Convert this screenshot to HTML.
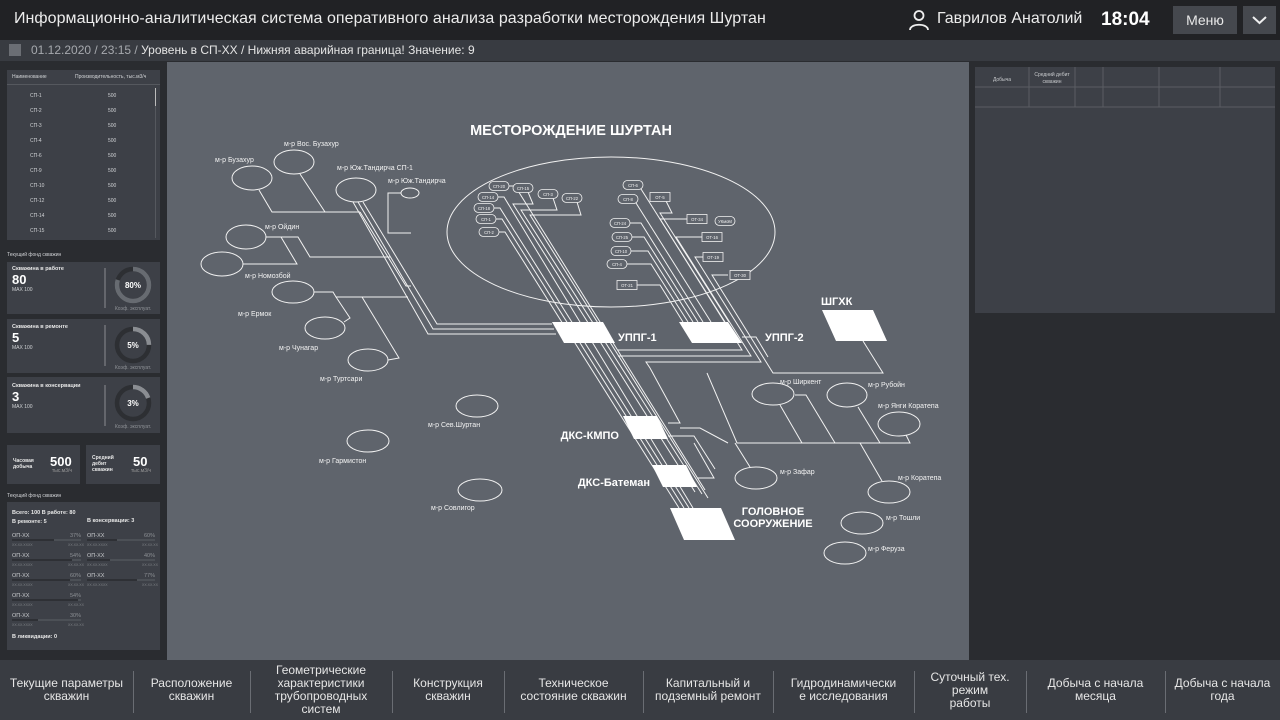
<!DOCTYPE html>
<html><head><meta charset="utf-8">
<style>
*{margin:0;padding:0;box-sizing:border-box}
body{width:1280px;height:720px;overflow:hidden;background:#2a2c30;font-family:"Liberation Sans",sans-serif;color:#e8e8e8;position:relative}
.abs{position:absolute}
#top{left:0;top:0;width:1280px;height:40px;background:#212225}
#alert{left:0;top:40px;width:1280px;height:21px;background:#383b41}
#left{left:0;top:61px;width:166px;height:599px;background:#2a2c30}
#canvas{left:167px;top:62px;width:802px;height:598px;background:#5f646c}
#right{left:969px;top:61px;width:311px;height:599px;background:#2a2c30}
#nav{left:0;top:660px;width:1280px;height:60px;background:#393c42}
.card{position:absolute;background:#3d4047}
.t5{font-size:5px;color:#cfd1d4}
.navi{position:absolute;top:660px;height:60px;display:flex;align-items:center;justify-content:center;text-align:center;font-size:12px;line-height:13px;color:#e6e6e6}
.div{position:absolute;top:671px;width:1px;height:42px;background:#6a6d73}
</style></head><body>
<div id="top" class="abs"></div>
<div class="abs" style="left:14px;top:10px;font-size:16px;letter-spacing:0.05px;color:#ececec">Информационно-аналитическая система оперативного анализа разработки месторождения Шуртан</div>
<svg class="abs" style="left:907px;top:8px" width="24" height="24" viewBox="0 0 24 24"><circle cx="12" cy="7.5" r="4.5" fill="none" stroke="#eee" stroke-width="1.8"/><path d="M3 22 C3 15 21 15 21 22" fill="none" stroke="#eee" stroke-width="1.8"/></svg>
<div class="abs" style="left:937px;top:10px;font-size:16px;color:#ececec">Гаврилов Анатолий</div>
<div class="abs" style="left:1101px;top:9px;font-size:19px;font-weight:bold;color:#fff">18:04</div>
<div class="abs" style="left:1173px;top:6px;width:64px;height:28px;background:#45484e;font-size:14px;display:flex;align-items:center;justify-content:center">Меню</div>
<div class="abs" style="left:1243px;top:6px;width:33px;height:28px;background:#45484e"></div>
<svg class="abs" style="left:1251px;top:14px" width="17" height="12"><path d="M2 3 L8.5 9 L15 3" fill="none" stroke="#eee" stroke-width="2"/></svg>

<div id="alert" class="abs"></div>
<div class="abs" style="left:9px;top:44px;width:12px;height:12px;background:#6b6e74"></div>
<div class="abs" style="left:31px;top:43px;font-size:12px;color:#e4e4e4"><span style="color:#a6a9ae">01.12.2020 / 23:15 /</span> Уровень в СП-ХХ / Нижняя аварийная граница! Значение: 9</div>

<div id="left" class="abs"></div>
<div class="card" style="left:7px;top:70px;width:153px;height:170px"></div>
<div class="abs" style="left:7px;top:84px;width:153px;height:1px;background:#55585e"></div>
<div class="abs t5" style="left:12px;top:74px">Наименование</div>
<div class="abs t5" style="left:75px;top:74px">Производительность, тыс.м3/ч</div>
<div class="abs" style="left:155px;top:88px;width:1px;height:150px;background:#55585e"></div>
<div class="abs" style="left:155px;top:88px;width:1px;height:18px;background:#bbb"></div>
<div class="abs t5" style="left:30px;top:89px;line-height:15px">СП-1<br>СП-2<br>СП-3<br>СП-4<br>СП-6<br>СП-9<br>СП-10<br>СП-12<br>СП-14<br>СП-15</div>
<div class="abs t5" style="left:108px;top:89px;line-height:15px">500<br>500<br>500<br>500<br>500<br>500<br>500<br>500<br>500<br>500</div>

<div class="abs t5" style="left:7px;top:252px">Текущий фонд скважин</div>
<div class="card" style="left:7px;top:262px;width:153px;height:52px"></div>
<div class="card" style="left:7px;top:319px;width:153px;height:54px"></div>
<div class="card" style="left:7px;top:377px;width:153px;height:56px"></div>
<div class="abs" style="left:12px;top:266px;font-size:5.5px;font-weight:bold">Скважина в работе</div>
<div class="abs" style="left:12px;top:272px;font-size:13px;font-weight:bold;color:#fff">80</div>
<div class="abs t5" style="left:12px;top:287px">MAX 100</div>
<div class="abs" style="left:12px;top:324px;font-size:5.5px;font-weight:bold">Скважина в ремонте</div>
<div class="abs" style="left:12px;top:330px;font-size:13px;font-weight:bold;color:#fff">5</div>
<div class="abs t5" style="left:12px;top:345px">MAX 100</div>
<div class="abs" style="left:12px;top:383px;font-size:5.5px;font-weight:bold">Скважина в консервации</div>
<div class="abs" style="left:12px;top:389px;font-size:13px;font-weight:bold;color:#fff">3</div>
<div class="abs t5" style="left:12px;top:404px">MAX 100</div>
<svg class="abs" style="left:0;top:0" width="170" height="660">
<g stroke="#8a8d92" stroke-width="1"><line x1="105" y1="268" x2="105" y2="308"/><line x1="105" y1="325" x2="105" y2="366"/><line x1="105" y1="385" x2="105" y2="426"/></g>
<g fill="none" stroke-width="4.5">
<circle cx="133" cy="285" r="16" stroke="#2d2f33"/>
<circle cx="133" cy="345" r="16" stroke="#2d2f33"/>
<circle cx="133" cy="403" r="16" stroke="#2d2f33"/>
<circle cx="133" cy="285" r="16" stroke="#676b71" stroke-dasharray="80.4 100.5" transform="rotate(-90 133 285)"/>
<circle cx="133" cy="345" r="16" stroke="#8a8d92" stroke-dasharray="25 100.5" transform="rotate(-90 133 345)"/>
<circle cx="133" cy="403" r="16" stroke="#8a8d92" stroke-dasharray="20 100.5" transform="rotate(-90 133 403)"/>
</g>
<g font-family="Liberation Sans" font-size="8" font-weight="bold" fill="#fff" text-anchor="middle"><text x="133" y="288">80%</text><text x="133" y="348">5%</text><text x="133" y="406">3%</text></g>
<g font-family="Liberation Sans" font-size="5" fill="#8f9297" text-anchor="middle"><text x="133" y="310">Коэф. эксплуат.</text><text x="133" y="369">Коэф. эксплуат.</text><text x="133" y="428">Коэф. эксплуат.</text></g>
</svg>
<div class="card" style="left:7px;top:445px;width:73px;height:39px"></div>
<div class="card" style="left:86px;top:445px;width:74px;height:39px"></div>
<div class="abs" style="left:13px;top:458px;font-size:5px;font-weight:bold;line-height:6px">Часовая<br>добыча</div>
<div class="abs" style="left:50px;top:454px;font-size:13px;font-weight:bold;color:#fff">500</div>
<div class="abs t5" style="left:52px;top:468px;color:#999">тыс.м3/ч</div>
<div class="abs" style="left:92px;top:455px;font-size:5px;font-weight:bold;line-height:6px">Средний<br>дебит<br>скважин</div>
<div class="abs" style="left:133px;top:454px;font-size:13px;font-weight:bold;color:#fff">50</div>
<div class="abs t5" style="left:131px;top:468px;color:#999">тыс.м3/ч</div>
<div class="abs t5" style="left:7px;top:493px">Текущий фонд скважин</div>
<div class="card" style="left:7px;top:502px;width:153px;height:148px"></div>
<div class="abs" style="left:12px;top:509px;font-size:5.5px;font-weight:bold;line-height:9px">Всего: 100 В работе: 80<br>В ремонте: 5</div>
<div class="abs" style="left:87px;top:518px;font-size:5.5px;font-weight:bold">В консервации: 3</div>
<div class="abs" style="left:12px;top:634px;font-size:5.5px;font-weight:bold">В ликвидации: 0</div>
<svg class="abs" style="left:0;top:0" width="170" height="660" font-family="Liberation Sans">
<g font-size="5.5" fill="#c8cacd">
<text x="12" y="537">ОП-ХХ</text><text x="12" y="557">ОП-ХХ</text><text x="12" y="577">ОП-ХХ</text><text x="12" y="597">ОП-ХХ</text><text x="12" y="617">ОП-ХХ</text>
<text x="87" y="537">ОП-ХХ</text><text x="87" y="557">ОП-ХХ</text><text x="87" y="577">ОП-ХХ</text>
</g>
<g font-size="5.5" fill="#8d9095" text-anchor="end">
<text x="81" y="537">37%</text><text x="81" y="557">54%</text><text x="81" y="577">60%</text><text x="81" y="597">54%</text><text x="81" y="617">30%</text>
<text x="155" y="537">60%</text><text x="155" y="557">40%</text><text x="155" y="577">77%</text>
</g>
<g stroke-width="1">
<line x1="12" y1="540" x2="81" y2="540" stroke="#5c5f65"/><line x1="12" y1="540" x2="54" y2="540" stroke="#1f2023"/>
<line x1="12" y1="560" x2="81" y2="560" stroke="#5c5f65"/><line x1="12" y1="560" x2="72" y2="560" stroke="#1f2023"/>
<line x1="12" y1="580" x2="81" y2="580" stroke="#5c5f65"/><line x1="12" y1="580" x2="70" y2="580" stroke="#1f2023"/>
<line x1="12" y1="600" x2="81" y2="600" stroke="#5c5f65"/><line x1="12" y1="600" x2="78" y2="600" stroke="#1f2023"/>
<line x1="12" y1="620" x2="81" y2="620" stroke="#5c5f65"/><line x1="12" y1="620" x2="38" y2="620" stroke="#1f2023"/>
<line x1="87" y1="540" x2="155" y2="540" stroke="#5c5f65"/><line x1="87" y1="540" x2="117" y2="540" stroke="#1f2023"/>
<line x1="87" y1="560" x2="155" y2="560" stroke="#5c5f65"/><line x1="87" y1="560" x2="110" y2="560" stroke="#1f2023"/>
<line x1="87" y1="580" x2="155" y2="580" stroke="#5c5f65"/><line x1="87" y1="580" x2="137" y2="580" stroke="#1f2023"/>
</g>
<g font-size="3.5" fill="#7e8186">
<text x="12" y="546">ХХ.ХХ.ХХХХ</text><text x="68" y="546">ХХ.ХХ.ХХ</text><text x="12" y="566">ХХ.ХХ.ХХХХ</text><text x="68" y="566">ХХ.ХХ.ХХ</text><text x="12" y="586">ХХ.ХХ.ХХХХ</text><text x="68" y="586">ХХ.ХХ.ХХ</text><text x="12" y="606">ХХ.ХХ.ХХХХ</text><text x="68" y="606">ХХ.ХХ.ХХ</text><text x="12" y="626">ХХ.ХХ.ХХХХ</text><text x="68" y="626">ХХ.ХХ.ХХ</text>
<text x="87" y="546">ХХ.ХХ.ХХХХ</text><text x="142" y="546">ХХ.ХХ.ХХ</text><text x="87" y="566">ХХ.ХХ.ХХХХ</text><text x="142" y="566">ХХ.ХХ.ХХ</text><text x="87" y="586">ХХ.ХХ.ХХХХ</text><text x="142" y="586">ХХ.ХХ.ХХ</text>
</g>
</svg>

<div id="canvas" class="abs"></div>
<div id="right" class="abs"></div>
<div class="card" style="left:975px;top:67px;width:300px;height:246px"></div>
<svg class="abs" style="left:975px;top:67px" width="300" height="50">
<g stroke="#5a5d63" stroke-width="1"><line x1="0" y1="20" x2="300" y2="20"/><line x1="0" y1="40" x2="300" y2="40"/>
<line x1="54" y1="0" x2="54" y2="40"/><line x1="100" y1="0" x2="100" y2="40"/><line x1="128" y1="0" x2="128" y2="40"/><line x1="184" y1="0" x2="184" y2="40"/><line x1="245" y1="0" x2="245" y2="40"/></g>
<g font-family="Liberation Sans" font-size="5" fill="#c8cacd" text-anchor="middle"><text x="27" y="14">Добыча</text><text x="77" y="9">Средний дебит</text><text x="77" y="16">скважин</text></g>
</svg>

<svg class="abs" style="left:0;top:0" width="1280" height="720" font-family="Liberation Sans">
<text x="571" y="135" font-size="14.5" font-weight="bold" fill="#fff" text-anchor="middle">МЕСТОРОЖДЕНИЕ ШУРТАН</text>
<g fill="none" stroke="#f2f2f2" stroke-width="1">
<ellipse cx="611" cy="232" rx="164" ry="75"/>
<ellipse cx="252" cy="178" rx="20" ry="12"/>
<ellipse cx="294" cy="162" rx="20" ry="12"/>
<ellipse cx="356" cy="190" rx="20" ry="12"/>
<ellipse cx="410" cy="193" rx="9" ry="5"/>
<ellipse cx="246" cy="237" rx="20" ry="12"/>
<ellipse cx="222" cy="264" rx="21" ry="12"/>
<ellipse cx="293" cy="292" rx="21" ry="11"/>
<ellipse cx="325" cy="328" rx="20" ry="11"/>
<ellipse cx="368" cy="360" rx="20" ry="11"/>
<ellipse cx="477" cy="406" rx="21" ry="11"/>
<ellipse cx="368" cy="441" rx="21" ry="11"/>
<ellipse cx="480" cy="490" rx="22" ry="11"/>
<ellipse cx="773" cy="394" rx="21" ry="11"/>
<ellipse cx="847" cy="395" rx="20" ry="12"/>
<ellipse cx="899" cy="424" rx="21" ry="12"/>
<ellipse cx="756" cy="478" rx="21" ry="11"/>
<ellipse cx="889" cy="492" rx="21" ry="11"/>
<ellipse cx="862" cy="523" rx="21" ry="11"/>
<ellipse cx="845" cy="553" rx="21" ry="11"/>
<polyline points="259,190 272,212 360,212"/>
<polyline points="300,174 325,212"/>
<polyline points="363,202 437,324 552,324"/>
<polyline points="358,202 433,329 554,329"/>
<polyline points="353,202 428,334 556,334"/>
<polyline points="360,212 406,286 411,286"/>
<polyline points="401,193 388,193 388,233 411,233"/>
<polyline points="266,237 298,237 310,257 390,257"/>
<polyline points="281,237 297,264 243,264"/>
<polyline points="314,292 333,292 336,297 408,297"/>
<polyline points="336,297 350,318 344,322"/>
<polyline points="362,297 399,358 388,360"/>
<polyline points="499,232 505,232 679,508"/>
<polyline points="496,219 502,219 684,508"/>
<polyline points="494,208 500,208 689,508"/>
<polyline points="498,197 504,197 693,508"/>
<polyline points="509,186 515,186 705,490"/>
<polyline points="528,192 533,204 513,204 695,492"/>
<polyline points="553,198 557,210 521,210 702,494"/>
<polyline points="577,202 581,215 530,215 708,498"/>
<polyline points="637,285 660,285 683,322"/>
<polyline points="627,264 651,264 688,322"/>
<polyline points="631,251 648,251 693,322"/>
<polyline points="632,237 644,237 698,322"/>
<polyline points="630,223 641,223 703,322"/>
<polyline points="636,203 711,322"/>
<polyline points="641,189 725,322"/>
<polyline points="666,201 672,213 660,213 729,322"/>
<polyline points="687,219 660,219 742,350 618,350"/>
<polyline points="702,237 676,237 751,356 618,356"/>
<polyline points="703,257 695,257 761,362 646,362 650,368 680,423 668,423"/>
<polyline points="728,275 712,275 773,373 883,373 863,341"/>
<polyline points="707,373 737,443 910,443 906,435"/>
<polyline points="795,395 806,395 835,443"/>
<polyline points="780,405 802,443"/>
<polyline points="858,407 880,443"/>
<polyline points="735,443 750,467"/>
<polyline points="860,443 882,481"/>
<polyline points="668,436 694,436 715,469"/>
<polyline points="680,428 700,428 728,443"/>
<polyline points="697,478 714,478 694,443"/>
<polyline points="742,337 756,337 768,357"/>
</g>
<g fill="#5f646c" stroke="#f2f2f2" stroke-width="0.8">
<rect x="489" y="181.5" width="20" height="9" rx="4.5"/>
<rect x="513" y="183.5" width="20" height="9" rx="4.5"/>
<rect x="538" y="189.5" width="20" height="9" rx="4.5"/>
<rect x="562" y="193.5" width="20" height="9" rx="4.5"/>
<rect x="478" y="192.5" width="20" height="9" rx="4.5"/>
<rect x="474" y="203.5" width="20" height="9" rx="4.5"/>
<rect x="476" y="214.5" width="20" height="9" rx="4.5"/>
<rect x="479" y="227.5" width="20" height="9" rx="4.5"/>
<rect x="623" y="180.5" width="20" height="9" rx="4.5"/>
<rect x="618" y="194.5" width="20" height="9" rx="4.5"/>
<rect x="610" y="218.5" width="20" height="9" rx="4.5"/>
<rect x="612" y="232.5" width="20" height="9" rx="4.5"/>
<rect x="611" y="246.5" width="20" height="9" rx="4.5"/>
<rect x="607" y="259.5" width="20" height="9" rx="4.5"/>
<rect x="715" y="216.5" width="20" height="9" rx="4.5"/>
<rect x="650" y="192.5" width="20" height="9"/>
<rect x="687" y="214.5" width="20" height="9"/>
<rect x="702" y="232.5" width="20" height="9"/>
<rect x="703" y="252.5" width="20" height="9"/>
<rect x="730" y="270.5" width="20" height="9"/>
<rect x="617" y="280.5" width="20" height="9"/>
</g>
<g font-size="4.2" fill="#f2f2f2" text-anchor="middle">
<text x="499" y="188">СП-20</text><text x="523" y="190">СП-15</text><text x="548" y="196">СП-3</text><text x="572" y="200">СП-22</text>
<text x="488" y="199">СП-14</text><text x="484" y="210">СП-18</text><text x="486" y="221">СП-1</text><text x="489" y="234">СП-2</text>
<text x="633" y="187">СП-6</text><text x="628" y="201">СП-8</text><text x="620" y="225">СП-24</text><text x="622" y="239">СП-25</text><text x="621" y="253">СП-10</text><text x="617" y="266">СП-4</text>
<text x="725" y="223">УКмоМ</text><text x="660" y="199">ОТ-5</text><text x="697" y="221">ОТ-34</text><text x="712" y="239">ОТ-16</text><text x="713" y="259">ОТ-19</text><text x="740" y="277">ОТ-30</text><text x="627" y="287">ОТ-21</text>
</g>
<g fill="#fff">
<polygon points="552,322 603,322 615,343 564,343"/>
<polygon points="679,322 728,322 742,343 692,343"/>
<polygon points="822,310 873,310 887,341 836,341"/>
<polygon points="623,416 657,416 668,439 634,439"/>
<polygon points="652,465 686,465 697,487 663,487"/>
<polygon points="670,508 721,508 735,540 684,540"/>
</g>
<g font-size="11" font-weight="bold" fill="#fff">
<text x="618" y="341">УППГ-1</text><text x="765" y="341">УППГ-2</text><text x="821" y="305">ШГХК</text>
<text x="619" y="439" text-anchor="end">ДКС-КМПО</text><text x="650" y="486" text-anchor="end">ДКС-Батеман</text>
<text x="773" y="515" text-anchor="middle">ГОЛОВНОЕ</text><text x="773" y="527" text-anchor="middle">СООРУЖЕНИЕ</text>
</g>
<g font-size="7" fill="#f2f2f2">
<text x="215" y="162">м-р Бузахур</text><text x="284" y="146">м-р Вос. Бузахур</text><text x="337" y="170">м-р Юж.Тандирча СП-1</text><text x="388" y="183">м-р Юж.Тандирча</text>
<text x="265" y="229">м-р Ойдин</text><text x="245" y="278">м-р Номозбой</text><text x="238" y="316">м-р Ермок</text><text x="279" y="350">м-р Чунагар</text><text x="320" y="381">м-р Туртсари</text>
<text x="428" y="427">м-р Сев.Шуртан</text><text x="319" y="463">м-р Гармистон</text><text x="431" y="510">м-р Совлигор</text>
<text x="780" y="384">м-р Ширкент</text><text x="868" y="387">м-р Рубойн</text><text x="878" y="408">м-р Янги Коратепа</text>
<text x="780" y="474">м-р Зафар</text><text x="898" y="480">м-р Коратепа</text><text x="886" y="520">м-р Тошли</text><text x="868" y="551">м-р Феруза</text>
</g>
</svg>

<div id="nav" class="abs"></div>
<div class="navi" style="left:0;width:133px">Текущие параметры<br>скважин</div>
<div class="navi" style="left:133px;width:117px">Расположение<br>скважин</div>
<div class="navi" style="left:250px;width:142px">Геометрические<br>характеристики<br>трубопроводных<br>систем</div>
<div class="navi" style="left:392px;width:112px">Конструкция<br>скважин</div>
<div class="navi" style="left:504px;width:139px">Техническое<br>состояние скважин</div>
<div class="navi" style="left:643px;width:130px">Капитальный и<br>подземный ремонт</div>
<div class="navi" style="left:773px;width:141px">Гидродинамически<br>е исследования</div>
<div class="navi" style="left:914px;width:112px">Суточный тех.<br>режим<br>работы</div>
<div class="navi" style="left:1026px;width:139px">Добыча с начала<br>месяца</div>
<div class="navi" style="left:1165px;width:115px">Добыча с начала<br>года</div>
<div class="div" style="left:133px"></div><div class="div" style="left:250px"></div><div class="div" style="left:392px"></div><div class="div" style="left:504px"></div><div class="div" style="left:643px"></div><div class="div" style="left:773px"></div><div class="div" style="left:914px"></div><div class="div" style="left:1026px"></div><div class="div" style="left:1165px"></div>
</body></html>
